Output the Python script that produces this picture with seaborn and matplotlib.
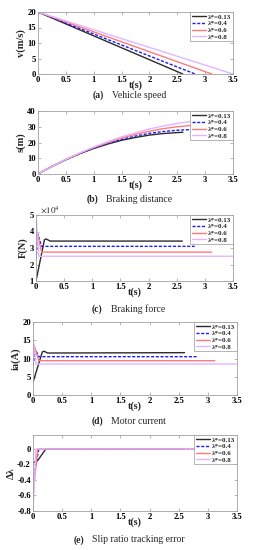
import numpy as np
import pandas as pd
import matplotlib
matplotlib.use("Agg")
import matplotlib.pyplot as plt
import seaborn as sns

sns.set_style("ticks")
plt.rcParams['font.family'] = ['Liberation Serif', 'DejaVu Serif']
plt.rcParams['mathtext.fontset'] = 'stix'

labels = ["λ*=0.13", "λ*=0.4", "λ*=0.6", "λ*=0.8"]
colors = ["#2b2b2b", "#1a1aff", "#ff7a7a", "#e2b6ff"]
styles = ["-", (0, (2.2, 1.2)), "-", "-"]

# (a) vehicle speed
t_a = [[0, 2.6], [0, 2.82], [0, 3.12], [0, 3.5]]
v_a = [[20, 0], [20, 0], [20, 0], [20, 0]]

# (b) braking distance
t_b = [
    [0, 0.25, 0.5, 0.75, 1.0, 1.25, 1.5, 1.75, 2.0, 2.25, 2.5, 2.6],
    [0, 0.25, 0.5, 0.75, 1.0, 1.25, 1.5, 1.75, 2.0, 2.25, 2.5, 2.82],
    [0, 0.25, 0.5, 0.75, 1.0, 1.25, 1.5, 1.75, 2.0, 2.25, 2.5, 2.75, 3.12],
    [0, 0.25, 0.5, 0.75, 1.0, 1.25, 1.5, 1.75, 2.0, 2.25, 2.5, 2.75, 3.0, 3.25, 3.5],
]
s_b = [
    [0, 4.8, 9.1, 12.9, 16.2, 19.0, 21.4, 23.2, 24.7, 25.7, 26.3, 26.5],
    [0, 4.8, 9.1, 13.0, 16.5, 19.4, 22.0, 24.1, 25.8, 27.0, 27.8, 28.3],
    [0, 4.8, 9.2, 13.2, 16.8, 19.9, 22.8, 25.2, 27.2, 28.8, 30.0, 30.8, 31.2],
    [0, 4.8, 9.3, 13.4, 17.1, 20.5, 23.6, 26.2, 28.6, 30.5, 32.1, 33.4, 34.3, 34.8, 35.0],
]

# (c) braking force (x1e4 N)
t_c = [
    [0, 0.15, 0.18, 0.25, 2.6],
    [0, 0.03, 0.1, 2.82],
    [0, 0.02, 0.1, 3.12],
    [0, 0.05, 3.5],
]
F_c = [
    [1.0, 3.5, 3.55, 3.42, 3.42],
    [2.3, 3.85, 3.1, 3.1],
    [3.5, 3.95, 2.75, 2.75],
    [5.0, 2.5, 2.5],
]

# (d) motor current
t_d = [
    [0, 0.16, 0.19, 0.25, 2.6],
    [0, 0.04, 0.1, 2.82],
    [0, 0.02, 0.1, 3.12],
    [0, 0.05, 3.5],
]
ia_d = [
    [3.5, 11.8, 12.0, 11.5, 11.6],
    [8.0, 12.5, 10.5, 10.5],
    [12.5, 13.5, 9.4, 9.4],
    [16.0, 8.5, 8.5],
]

# (e) slip ratio tracking error
t_e = [
    [0, 0.08, 0.22, 2.6],
    [0, 0.1, 2.82],
    [0, 0.08, 3.12],
    [0, 0.05, 3.5],
]
e_e = [
    [-0.18, -0.15, 0.0, 0.0],
    [-0.4, 0.0, 0.0],
    [-0.6, 0.0, 0.0],
    [-0.8, 0.0, 0.0],
]

xticks = [0, 0.5, 1, 1.5, 2, 2.5, 3, 3.5]
xticklabels = ["0", "0.5", "1", "1.5", "2", "2.5", "3", "3.5"]

W, H = 255, 550
fig = plt.figure(figsize=(W / 100, H / 100), dpi=100)

def axes_px(l, r, top, bot):
    return fig.add_axes([l / W, 1 - bot / H, (r - l) / W, (bot - top) / H])

panels = [
    dict(pos=(38, 233, 12, 74), t=t_a, y=v_a, ylabel="v(m/s)", ylim=(0, 20), yticks=[0, 5, 10, 15, 20],
         yticklabels=["0", "5", "10", "15", "20"], cap_y=95.5, tag="(a)", cap="Vehicle speed"),
    dict(pos=(38, 233, 111, 174), t=t_b, y=s_b, ylabel="s(m)", ylim=(0, 40), yticks=[0, 10, 20, 30, 40],
         yticklabels=["0", "10", "20", "30", "40"], cap_y=199, tag="(b)", cap="Braking distance"),
    dict(pos=(36, 233, 215, 281), t=t_c, y=F_c, ylabel="F(N)", ylim=(1, 5), yticks=[1, 2, 3, 4, 5],
         yticklabels=["1", "2", "3", "4", "5"], cap_y=309, tag="(c)", cap="Braking force"),
    dict(pos=(33, 237, 322, 395), t=t_d, y=ia_d, ylabel="ia(A)", ylim=(0, 20), yticks=[0, 5, 10, 15, 20],
         yticklabels=["0", "5", "10", "15", "20"], cap_y=421, tag="(d)", cap="Motor current"),
    dict(pos=(33, 237, 435, 511), t=t_e, y=e_e, ylabel="Δλ", ylim=(-0.8, 0.18), yticks=[-0.8, -0.6, -0.4, -0.2, 0],
         yticklabels=["-0.8", "-0.6", "-0.4", "-0.2", "0"], cap_y=540, tag="(e)", cap="Slip ratio tracking error"),
]

captions = []
for p in panels:
    ax = axes_px(*p["pos"])
    for i in range(4):
        df = pd.DataFrame({"t": p["t"][i], "y": p["y"][i]})
        sns.lineplot(data=df, x="t", y="y", ax=ax, color=colors[i], linestyle=styles[i],
                     linewidth=1.0, label=labels[i], estimator=None, sort=False)
    ax.set_xlim(0, 3.5)
    ax.set_ylim(*p["ylim"])
    ax.set_xticks(xticks)
    ax.set_xticklabels(xticklabels)
    ax.set_yticks(p["yticks"])
    ax.set_yticklabels(p["yticklabels"])
    ax.tick_params(direction="in", length=2, width=0.5, labelsize=6.2, pad=1.5,
                   top=True, right=True, colors="#999999", labelcolor="black")
    for lab in ax.get_xticklabels() + ax.get_yticklabels():
        lab.set_fontweight("bold")
    for sp in ax.spines.values():
        sp.set_visible(True)
        sp.set_color("#a0a0a0")
        sp.set_linewidth(0.6)
    ax.set_xlabel("t(s)", fontsize=7.2, fontweight="bold", labelpad=-2.5)
    ax.set_ylabel(p["ylabel"], fontsize=7.5, fontweight="bold", labelpad=1)
    leg = ax.legend(loc="upper right", fontsize=5.0, frameon=True, fancybox=False,
                    borderpad=0.25, labelspacing=0.12, handlelength=2.0, handletextpad=0.35,
                    borderaxespad=0.0, framealpha=1.0)
    leg.get_frame().set_edgecolor("#999999")
    leg.get_frame().set_linewidth(0.5)
    for txt in leg.get_texts():
        txt.set_fontweight("bold")
    l, r, top, bot = p["pos"]
    ty = 1 - p["cap_y"] / H
    t1 = fig.text(0, ty, p["tag"], ha="left", va="center", fontsize=7, fontweight="bold")
    t2 = fig.text(0, ty, p["cap"], ha="left", va="center", fontsize=7)
    captions.append(((l + r) / 2 - 6, t1, t2))
    if p["tag"] == "(c)":
        ax.text(0.02, 1.0, r"$\times10^{4}$", transform=ax.transAxes, ha="left", va="bottom",
                fontsize=6.5)

fig.canvas.draw()
renderer = fig.canvas.get_renderer()
gap = 8
for cxp, t1, t2 in captions:
    w1 = t1.get_window_extent(renderer).width
    w2 = t2.get_window_extent(renderer).width
    start = cxp - (w1 + gap + w2) / 2
    t1.set_x(start / W)
    t2.set_x((start + w1 + gap) / W)

fig.savefig("out.png", dpi=100)
